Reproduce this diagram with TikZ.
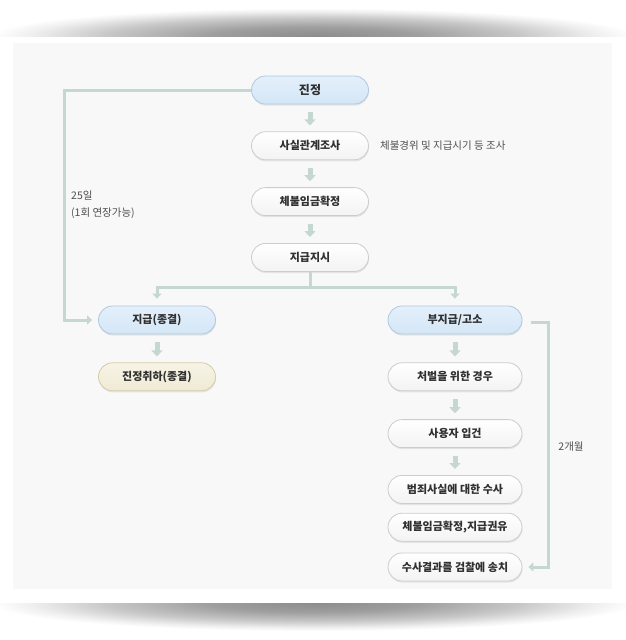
\documentclass[tikz,border=0pt]{standalone}
\usepackage{fontspec}
\setmainfont{Noto Sans CJK KR}
\usetikzlibrary{arrows.meta, positioning, calc, shapes.misc, shadows}
\definecolor{PanelGray}{RGB}{248, 248, 248}
\definecolor{LinkGreen}{RGB}{197, 216, 207}
\definecolor{PetitionBlue}{RGB}{212, 230, 246}
\definecolor{PetitionBlueTop}{RGB}{228, 240, 251}
\definecolor{PetitionEdge}{RGB}{174, 201, 224}
\definecolor{BoxEdge}{RGB}{204, 204, 204}
\definecolor{BoxLow}{RGB}{243, 243, 243}
\definecolor{CloseBeige}{RGB}{238, 234, 212}
\definecolor{CloseBeigeTop}{RGB}{247, 244, 230}
\definecolor{CloseEdge}{RGB}{212, 203, 170}
\definecolor{TextDark}{RGB}{48, 48, 48}
\definecolor{NoteGray}{RGB}{80, 80, 80}
\pgfdeclareradialshading{frameshadow}{\pgfpointorigin}{color(0bp)=(black!45); color(8bp)=(black!38); color(16bp)=(black!22); color(22bp)=(black!6); color(25bp)=(white); color(50bp)=(white)}

\begin{document}
\begin{tikzpicture}[
        x=1pt, y=-1pt,
        node distance=27pt,
        pill/.style={rounded rectangle, line width=0.8pt, minimum height=28pt, inner sep=2pt, align=center, font=\fontsize{11}{13}\selectfont\bfseries, text=TextDark, drop shadow={shadow xshift=0.5pt, shadow yshift=-1.6pt, opacity=0.16}},
        bluebox/.style={pill, draw=PetitionEdge, top color=PetitionBlueTop, bottom color=PetitionBlue},
        whitebox/.style={pill, draw=BoxEdge, top color=white, bottom color=BoxLow},
        beigebox/.style={pill, draw=CloseEdge, top color=CloseBeigeTop, bottom color=CloseBeige},
        note/.style={inner sep=0pt, align=left, font=\fontsize{10.5}{17}\selectfont, text=NoteGray},
        link/.style={draw=LinkGreen, line width=3pt},
        linkarrow/.style={link, -{Triangle[width=9pt, length=5pt]}},
        fatarrow/.style={draw=LinkGreen, line width=5pt, -{Triangle[width=11pt, length=6pt]}, shorten <=8pt, shorten >=6pt}
    ]
        \path[use as bounding box, fill=white] (0,0) rectangle (626,640);
        \fill[PanelGray] (13,43) rectangle (612,589);
        \begin{scope}
            \clip (0,0) rectangle (626,36);
            \shade[shading=frameshadow] (313,36) ellipse [x radius=322, y radius=28];
        \end{scope}
        \begin{scope}
            \clip (0,603) rectangle (626,640);
            \shade[shading=frameshadow] (313,603) ellipse [x radius=322, y radius=28];
        \end{scope}
        
        \node[bluebox, minimum width=121pt, font=\fontsize{12}{14}\selectfont\bfseries] (petition) at (310,90) {진정};
        \node[whitebox, minimum width=121pt, below=of petition] (survey) {사실관계조사};
        \node[whitebox, minimum width=121pt, below=of survey] (confirm) {체불임금확정};
        \node[whitebox, minimum width=121pt, below=of confirm] (order) {지급지시};
        \node[note, right=11pt of survey] (surveynote) {체불경위 및 지급시기 등 조사};
        
        \node[bluebox, minimum width=121pt] (paid) at (157,320) {지급(종결)};
        \node[beigebox, minimum width=121pt, below=28pt of paid] (withdraw) {진정취하(종결)};
        
        \node[bluebox, minimum width=138pt] (unpaid) at (455,320) {부지급/고소};
        \node[whitebox, minimum width=138pt, below=28pt of unpaid] (punish) {처벌을 위한 경우};
        \node[whitebox, minimum width=138pt, below=28pt of punish] (booking) {사용자 입건};
        \node[whitebox, minimum width=138pt, below=27pt of booking] (probe) {범죄사실에 대한 수사};
        \node[whitebox, minimum width=138pt, below=9pt of probe] (advise) {체불임금확정,지급권유};
        \node[whitebox, minimum width=138pt, below=11pt of advise] (referral) {수사결과를 검찰에 송치};
        
        \foreach \from/\to in {petition/survey, survey/confirm, confirm/order, paid/withdraw, unpaid/punish, punish/booking, booking/probe}
            \draw[fatarrow] (\from.south) -- (\to.north);
        
        \coordinate[below=16pt of order.south] (split);
        \draw[link] (order.south) -- (split);
        \draw[linkarrow] (split) -| ([yshift=7pt]paid.north);
        \draw[linkarrow] (split) -| ([yshift=7pt]unpaid.north);
        
        \draw[linkarrow] (petition.west) -- ++(-187,0) |- ([xshift=-6pt]paid.west);
        \node[note, anchor=west] (deadline) at (71,205) {25일\\(1회 연장가능)};
        
        \draw[linkarrow] ([xshift=9pt, yshift=-2pt]unpaid.east) -- ++(17,0) |- ([xshift=6pt]referral.east);
        \node[note] (twomonths) at (571,447) {2개월};
        
    \end{tikzpicture}
\end{document}
